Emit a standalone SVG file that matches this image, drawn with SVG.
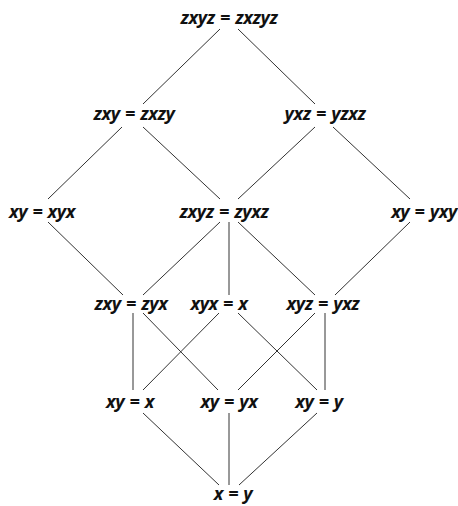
<svg xmlns="http://www.w3.org/2000/svg" width="458" height="506" viewBox="0 0 458 506">
<style>
text{font-family:"Noto Sans","DejaVu Sans",sans-serif;font-style:italic;font-weight:bold;font-size:18px;fill:#111;text-anchor:middle;letter-spacing:-0.4px;word-spacing:1px}
.c line{stroke:#333;stroke-width:1}
</style>
<rect width="458" height="506" fill="#fff"/>
<g class="c" id="connectors">
<line x1="220" y1="29" x2="143" y2="104"/>
<line x1="238" y1="29" x2="315" y2="104"/>
<line x1="122" y1="127" x2="48" y2="199"/>
<line x1="143" y1="127" x2="220" y2="199"/>
<line x1="315" y1="127" x2="238" y2="199"/>
<line x1="333" y1="127" x2="410" y2="199"/>
<line x1="48" y1="222" x2="123" y2="295"/>
<line x1="220" y1="222" x2="143" y2="295"/>
<line x1="229" y1="222" x2="229" y2="295"/>
<line x1="238" y1="222" x2="315" y2="295"/>
<line x1="410" y1="222" x2="335" y2="295"/>
<line x1="133" y1="313" x2="133" y2="390"/>
<line x1="143" y1="313" x2="218" y2="390"/>
<line x1="219" y1="313" x2="143" y2="390"/>
<line x1="238" y1="313" x2="317" y2="390"/>
<line x1="315" y1="313" x2="238" y2="390"/>
<line x1="325" y1="313" x2="325" y2="390"/>
<line x1="143" y1="413" x2="219" y2="485"/>
<line x1="229" y1="413" x2="229" y2="485"/>
<line x1="317" y1="413" x2="239" y2="485"/>
</g>
<g id="n1"><text x="229" y="24">zxyz = zxzyz</text></g>
<g id="n2"><text x="134" y="120">zxy = zxzy</text></g>
<g id="n3"><text x="325" y="120">yxz = yzxz</text></g>
<g id="n4"><text x="42" y="218">xy = xyx</text></g>
<g id="n5"><text x="224" y="218">zxyz = zyxz</text></g>
<g id="n6"><text x="424" y="218">xy = yxy</text></g>
<g id="n7"><text x="131" y="310">zxy = zyx</text></g>
<g id="n8"><text x="219" y="310">xyx = x</text></g>
<g id="n9"><text x="323" y="310">xyz = yxz</text></g>
<g id="n10"><text x="130" y="408">xy = x</text></g>
<g id="n11"><text x="229" y="408">xy = yx</text></g>
<g id="n12"><text x="319" y="408">xy = y</text></g>
<g id="n13"><text x="233" y="500">x = y</text></g>
</svg>
